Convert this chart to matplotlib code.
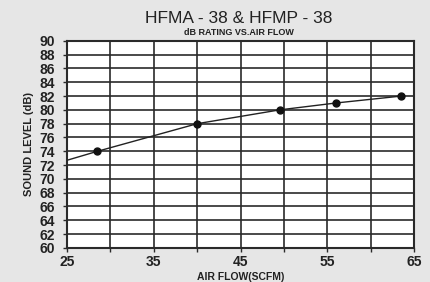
import matplotlib.pyplot as plt
from matplotlib import font_manager

# data
air_flow = [28.5, 40, 49.5, 56, 63.5]
sound_db = [74, 78, 80, 81, 82]
line_start = (25, 72.7)  # curve continues to the left axis edge

x_major = [25, 35, 45, 55, 65]
x_grid = [25, 30, 35, 40, 45, 50, 55, 60, 65]
y_ticks = list(range(60, 91, 2))

names = {f.name for f in font_manager.fontManager.ttflist}
narrow = 'Liberation Sans Narrow' if 'Liberation Sans Narrow' in names else 'Liberation Sans'
plt.rcParams['font.family'] = ['Liberation Sans', 'DejaVu Sans']

fig = plt.figure(figsize=(4.3, 2.82), dpi=100)
fig.patch.set_facecolor('#e6e6e6')
ax = fig.add_axes([0.156, 0.121, 0.807, 0.734])
ax.set_facecolor('white')

ax.set_xlim(25, 65)
ax.set_ylim(60, 90)
ax.set_xticks(x_major)
ax.set_xticks(x_grid, minor=True)
ax.set_yticks(y_ticks)
ax.grid(True, which='both', color='#2a2a2a', linewidth=1.2)
ax.set_axisbelow(True)
for s in ax.spines.values():
    s.set_color('#2a2a2a')
    s.set_linewidth(1.5)

ax.tick_params(axis='both', which='both', length=3, width=1, color='#2a2a2a',
               labelsize=10)
ax.tick_params(axis='y', pad=6)
ax.tick_params(axis='x', pad=2)
for lab in ax.get_xticklabels() + ax.get_yticklabels():
    lab.set_fontweight('bold')
    lab.set_family(narrow)
    lab.set_color('#222222')

lx = [line_start[0]] + air_flow
ly = [line_start[1]] + sound_db
ax.plot(lx, ly, color='#222222', linewidth=1.0, zorder=3)
ax.plot(air_flow, sound_db, 'o', color='#111111', markersize=5, zorder=4)

ax.set_xlabel('AIR FLOW(SCFM)', fontsize=7.5, fontweight='bold', color='#222222', labelpad=2)
ax.set_ylabel('SOUND LEVEL (dB)', fontsize=8, fontweight='bold', color='#222222', labelpad=4)

fig.text(0.555, 0.935, 'HFMA - 38 & HFMP - 38', ha='center', va='center',
         fontsize=12.5, color='#222222')
fig.text(0.555, 0.883, 'dB RATING VS.AIR FLOW', ha='center', va='center',
         fontsize=6.5, fontweight='bold', color='#222222')

fig.savefig('out.png', dpi=100, facecolor=fig.get_facecolor())
